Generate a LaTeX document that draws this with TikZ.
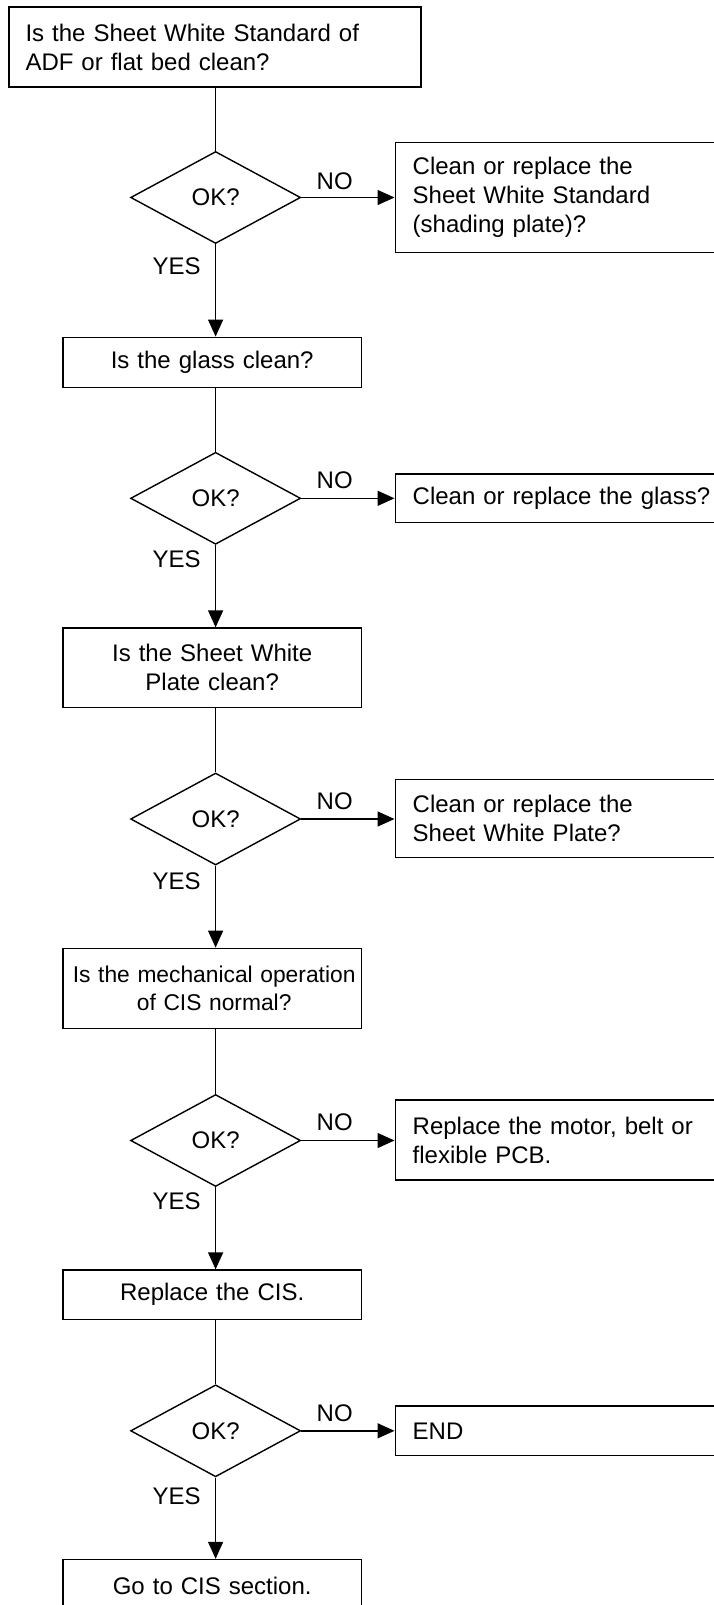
\documentclass[tikz,border=0pt]{standalone}
\usepackage{fontspec}
\setmainfont{Liberation Sans}
\usetikzlibrary{shapes.geometric,arrows.meta}
\begin{document}
\begin{tikzpicture}[x=1pt,y=-1pt,
  every node/.style={font=\fontsize{24}{29}\selectfont},
  box/.style={draw,line width=1.4pt,rectangle,inner ysep=0pt},
  lbox/.style={box,align=center,text width=298pt,inner xsep=0.4pt},
  rbox/.style={box,anchor=west,text width=400pt,align=left,inner xsep=17.5pt},
  dia/.style={draw,line width=1.4pt,diamond,minimum width=170pt,minimum height=92pt,inner sep=0pt},
  lbl/.style={inner sep=0pt},
  conn/.style={line width=1.4pt},
  arr/.style={line width=1.4pt,-{Triangle[length=17pt,width=15pt]}}]
\useasboundingbox (0,0) rectangle (714,1605);
\clip (0,0) rectangle (714,1605);

% left column
\node[box,minimum width=412pt,minimum height=80pt,text width=379pt,align=left,inner xsep=16.5pt] (b1) at (215,47) {Is the Sheet White Standard of\\ADF or flat bed clean?};
\node[lbox,minimum height=50pt] (b2) at (212.2,362.3) {Is the glass clean?};
\node[lbox,minimum height=79.3pt] (b3) at (212.2,667.7) {Is the Sheet White\\Plate clean?};
\node[lbox,minimum height=80pt,font=\fontsize{22.8}{28.5}\selectfont] (b4) at (212.2,988.3) {\hspace*{4pt}Is the mechanical operation\\\hspace*{4pt}of CIS normal?};
\node[lbox,minimum height=49.3pt] (b5) at (212.2,1294.7) {Replace the CIS.};
\node[lbox,minimum height=53pt] (b6) at (212.2,1586) {Go to CIS section.};

% decisions
\node[dia] (d1) at (215.6,197.5) {OK?};
\node[dia] (d2) at (215.6,498.3) {OK?};
\node[dia] (d3) at (215.6,819) {OK?};
\node[dia] (d4) at (215.6,1140.5) {OK?};
\node[dia] (d5) at (215.6,1430.8) {OK?};

% right boxes
\node[rbox,minimum height=110pt] (r1) at (394.5,197.7) {Clean or replace the\\Sheet White Standard\\(shading plate)?};
\node[rbox,minimum height=48.7pt] (r2) at (394.5,498.35) {Clean or replace the glass?};
\node[rbox,minimum height=78pt] (r3) at (394.5,818.2) {Clean or replace the\\Sheet White Plate?};
\node[rbox,minimum height=80pt] (r4) at (394.5,1140) {Replace the motor, belt or\\flexible PCB.};
\node[rbox,minimum height=49.7pt] (r5) at (394.5,1430.85) {END};

% labels
\node[lbl] (no1) at (334.7,181) {NO};
\node[lbl] (no2) at (334.7,480) {NO};
\node[lbl] (no3) at (334.7,801) {NO};
\node[lbl] (no4) at (334.7,1122.7) {NO};
\node[lbl] (no5) at (334.7,1413.3) {NO};
\node[lbl] (yes1) at (176.7,266.7) {YES};
\node[lbl] (yes2) at (176.7,559.3) {YES};
\node[lbl] (yes3) at (176.7,881.7) {YES};
\node[lbl] (yes4) at (176.7,1201.7) {YES};
\node[lbl] (yes5) at (176.7,1496) {YES};

% connectors
\draw[conn] (b1.south -| d1.north) -- (d1.north);
\draw[conn] (b2.south -| d2.north) -- (d2.north);
\draw[conn] (b3.south -| d3.north) -- (d3.north);
\draw[conn] (b4.south -| d4.north) -- (d4.north);
\draw[conn] (b5.south -| d5.north) -- (d5.north);
\draw[arr] (d1.south) -- (d1.south |- b2.north);
\draw[arr] (d2.south) -- (d2.south |- b3.north);
\draw[arr] (d3.south) -- (d3.south |- b4.north);
\draw[arr] (d4.south) -- (d4.south |- b5.north);
\draw[arr] (d5.south) -- (d5.south |- b6.north);
\draw[arr] (d1.east) -- (d1.east -| r1.west);
\draw[arr] (d2.east) -- (d2.east -| r2.west);
\draw[arr] (d3.east) -- (d3.east -| r3.west);
\draw[arr] (d4.east) -- (d4.east -| r4.west);
\draw[arr] (d5.east) -- (d5.east -| r5.west);
\end{tikzpicture}
\end{document}
